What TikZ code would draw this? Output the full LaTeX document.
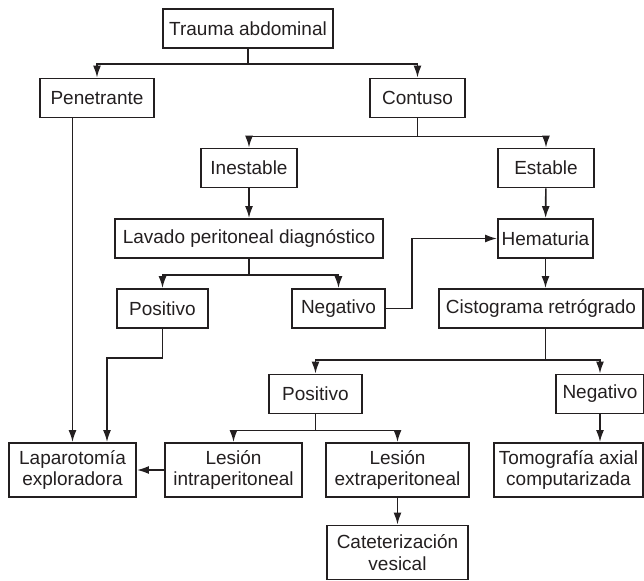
\documentclass[tikz,border=0pt]{standalone}
\usepackage{fontspec}
\setmainfont{Liberation Sans}
\usetikzlibrary{arrows.meta,calc}
\definecolor{ink}{RGB}{35,31,32}

\begin{document}
\begin{tikzpicture}[x=0.5pt,y=-0.5pt,line cap=butt,line join=miter,
  >={Latex[length=6pt,width=4pt]},
  box/.style={draw=ink,text=ink,line width=0.95pt,inner sep=0pt,align=center,
    minimum height=19.5pt,font=\fontsize{9.5}{10.8}\selectfont},
  tallbox/.style={box,minimum height=27pt},
  link/.style={draw=ink,line width=0.8pt}]
  \useasboundingbox (0,0) rectangle (644,580);
  % boxes
  \node[box,minimum width=85pt] (trauma) at (248,28.5) {Trauma abdominal};
  \node[box,minimum width=57pt] (pen) at (97,98) {Penetrante};
  \node[box,minimum width=47.5pt] (cont) at (417.5,98) {Contuso};
  \node[box,minimum width=48pt] (inest) at (249,168) {Inestable};
  \node[box,minimum width=48pt] (est) at (546,168) {Estable};
  \node[box,minimum width=134pt] (lavado) at (249,238.5) {Lavado peritoneal diagnóstico};
  \node[box,minimum width=47.5pt] (hema) at (545.5,238.5) {Hematuria};
  \node[box,minimum width=45.5pt] (pos1) at (162.5,308.5) {Positivo};
  \node[box,minimum width=46.5pt] (neg1) at (338.5,308.5) {Negativo};
  \node[box,minimum width=102pt] (cisto) at (541,308.5) {Cistograma retrógrado};
  \node[box,minimum width=46.5pt] (pos2) at (315.5,394) {Positivo};
  \node[box,minimum width=44pt] (neg2) at (600,394) {Negativo};
  \node[tallbox,minimum width=63.5pt] (lapa) at (72.5,470) {Laparotomía\\exploradora};
  \node[tallbox,minimum width=68.5pt] (lesin) at (233.5,470) {Lesión\\intraperitoneal};
  \node[tallbox,minimum width=71.5pt] (lesex) at (397.5,470) {Lesión\\extraperitoneal};
  \node[tallbox,minimum width=74.5pt] (tomo) at (568.5,470) {Tomografía axial\\computarizada};
  \node[tallbox,minimum width=70.5pt] (cat) at (397.5,552.5) {Cateterización\\vesical};
  % connectors
  \draw[link] (trauma.south) -- ++(0,15) coordinate (t1);
  \draw[link,->] (t1) -| (pen);
  \draw[link,->] (t1) -| (cont);
  \draw[link] (cont.south) -- ++(0,18) coordinate (c1);
  \draw[link,->] (c1) -| (inest);
  \draw[link,->] (c1) -| (est);
  \draw[link,->] (inest) -- (lavado);
  \draw[link,->] (est) -- (hema);
  \draw[link] (lavado.south) -- ++(0,16) coordinate (l1);
  \draw[link,->] (l1) -| (pos1);
  \draw[link,->] (l1) -| (neg1);
  \draw[link,->] (neg1.east) -- ++(26,0) |- (hema.west);
  \draw[link,->] (hema) -- (cisto.north -| hema.south);
  \draw[link] (cisto.south -| hema.south) -- ++(0,31) coordinate (h1);
  \draw[link,->] (h1) -| (pos2);
  \draw[link,->] (h1) -| (neg2);
  \draw[link,->] (lapa.north |- pen.south) -- (lapa.north);
  \draw[link,->] (pos1.south) -- ++(0,29) -| ($(lapa.north)+(34.5,0)$);
  \draw[link] (pos2.south) -- ++(0,16) coordinate (p1);
  \draw[link,->] (p1) -| (lesin);
  \draw[link,->] (p1) -| (lesex);
  \draw[link,->] (lesin) -- (lapa);
  \draw[link,->] (lesex) -- (cat);
  \draw[link,->] (neg2.south) -- (neg2.south |- tomo.north);
\end{tikzpicture}
\end{document}
